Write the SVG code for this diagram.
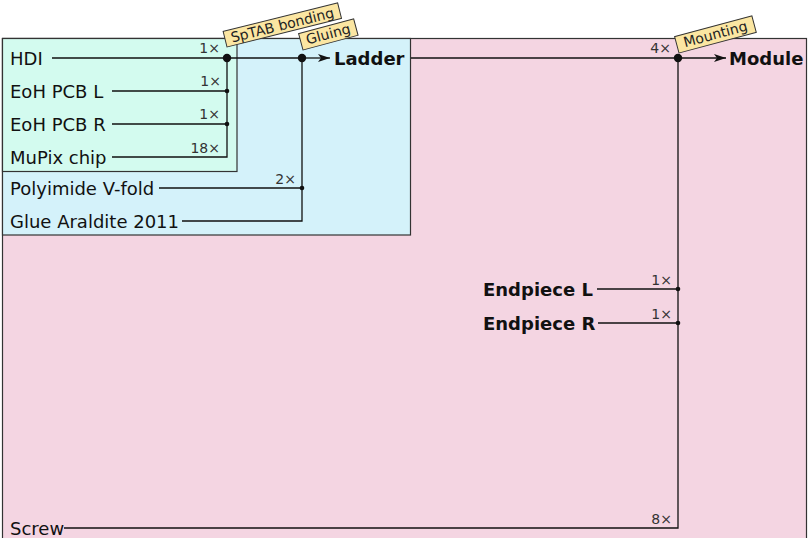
<svg xmlns="http://www.w3.org/2000/svg" width="808" height="538" viewBox="0 0 808 538">
<style>
.lbl{font-family:"DejaVu Sans",sans-serif;font-size:18px;fill:#111}
.bold{font-weight:bold}
.mul{font-family:"DejaVu Sans",sans-serif;font-size:14px;fill:#333;text-anchor:end}
.tagt{font-family:"DejaVu Sans",sans-serif;font-size:14px;fill:#222;text-anchor:middle}
.tagr{fill:#fbe6a2;stroke:#333;stroke-width:1}
.box{stroke:#333;stroke-width:1.2}
.ln{fill:none;stroke:#111;stroke-width:1.3}
</style>
<defs>
<marker id="arr" viewBox="0 0 12 8" refX="12" refY="4" markerWidth="12" markerHeight="8" markerUnits="userSpaceOnUse" orient="auto">
<path d="M0,0 L12,4 L0,8 L3,4 Z" fill="#111"/>
</marker>
</defs>
<g id="box-module"><rect class="box" x="2.5" y="38.5" width="804" height="530" fill="#f4d5e2"/></g>
<g id="box-ladder"><rect class="box" x="2.5" y="38.5" width="408" height="196.5" fill="#d4f2fa"/></g>
<g id="box-spatab"><rect class="box" x="2.5" y="38.5" width="234.5" height="133" fill="#d3fbef"/></g>

<g id="connectors">
<path class="ln" d="M52,58 H227"/>
<path class="ln" d="M112,91 H227"/>
<path class="ln" d="M112,124 H227"/>
<path class="ln" d="M112,157 H227 V58"/>
<path class="ln" d="M227,58 H302"/>
<path class="ln" d="M159,188 H302"/>
<path class="ln" d="M182,221 H302 V58"/>
<path class="ln" d="M302,58 H330" marker-end="url(#arr)"/>
<path class="ln" d="M411,58 H678"/>
<path class="ln" d="M597,289 H678"/>
<path class="ln" d="M598,323 H678"/>
<path class="ln" d="M64,528 H678 V58"/>
<path class="ln" d="M678,58 H726" marker-end="url(#arr)"/>
<circle cx="227" cy="58" r="4.2" fill="#111"/>
<circle cx="302" cy="58" r="4.2" fill="#111"/>
<circle cx="678" cy="58" r="4.2" fill="#111"/>
<circle cx="227" cy="91" r="2.3" fill="#111"/>
<circle cx="227" cy="124" r="2.3" fill="#111"/>
<circle cx="302" cy="188" r="2.3" fill="#111"/>
<circle cx="678" cy="289" r="2.3" fill="#111"/>
<circle cx="678" cy="323" r="2.3" fill="#111"/>
<text class="mul" x="220" y="53">1×</text>
<text class="mul" x="221" y="86">1×</text>
<text class="mul" x="220" y="119">1×</text>
<text class="mul" x="220" y="153">18×</text>
<text class="mul" x="296" y="184">2×</text>
<text class="mul" x="671" y="53">4×</text>
<text class="mul" x="672" y="285">1×</text>
<text class="mul" x="672" y="319">1×</text>
<text class="mul" x="672" y="524">8×</text>
</g>

<g id="node-hdi"><text class="lbl" x="10" y="64.5">HDI</text></g>
<g id="node-eoh-l"><text class="lbl" x="10" y="97.5">EoH PCB L</text></g>
<g id="node-eoh-r"><text class="lbl" x="10" y="130.5">EoH PCB R</text></g>
<g id="node-mupix"><text class="lbl" x="10" y="163.5">MuPix chip</text></g>
<g id="node-polyimide"><text class="lbl" x="10" y="194.5">Polyimide V-fold</text></g>
<g id="node-glue"><text class="lbl" x="10" y="227.5">Glue Araldite 2011</text></g>
<g id="node-ladder"><text class="lbl bold" x="334" y="64.5">Ladder</text></g>
<g id="node-module"><text class="lbl bold" x="729" y="64.5">Module</text></g>
<g id="node-endpiece-l"><text class="lbl bold" x="483" y="295.5">Endpiece L</text></g>
<g id="node-endpiece-r"><text class="lbl bold" x="483" y="329.5">Endpiece R</text></g>
<g id="node-screw"><text class="lbl" x="10" y="534.5">Screw</text></g>

<g id="tag-sptab" transform="translate(227,47) rotate(-14)">
<rect class="tagr" x="0" y="-16" width="118" height="16"/>
<text class="tagt" x="59" y="-3">SpTAB bonding</text>
</g>
<g id="tag-gluing" transform="translate(303,50) rotate(-15)">
<rect class="tagr" x="0" y="-17" width="57" height="17"/>
<text class="tagt" x="28.5" y="-4">Gluing</text>
</g>
<g id="tag-mounting" transform="translate(679,53) rotate(-15)">
<rect class="tagr" x="0" y="-17" width="80" height="17"/>
<text class="tagt" x="40" y="-4">Mounting</text>
</g>
</svg>
